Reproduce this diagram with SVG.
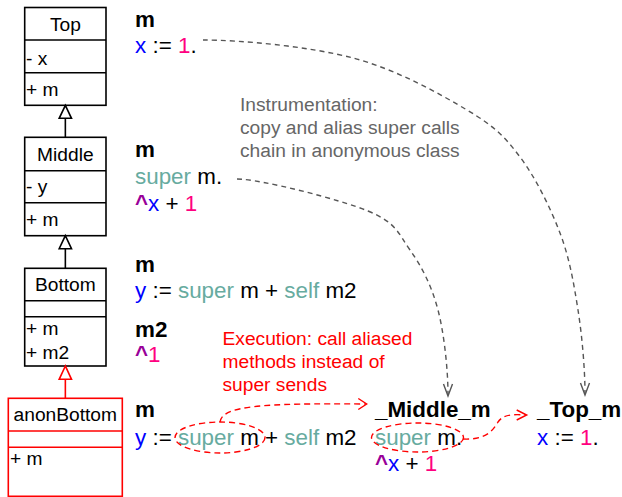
<svg xmlns="http://www.w3.org/2000/svg" width="622" height="497" viewBox="0 0 622 497">
<style>
text{font-family:"Liberation Sans",Arial,sans-serif;}
.lbl{font-size:19.2px;fill:#000;}
.ctr{text-anchor:middle;}
.code{font-size:22.4px;fill:#000;}
.bold{font-weight:bold;}
.v{fill:#0000FF;}
.n{fill:#FF0080;}
.t{fill:#67AB9F;}
.r{fill:#990099;font-weight:bold;}
.note{font-size:19.2px;fill:#666666;}
.rnote{font-size:19.2px;fill:#FF0000;}
.box{fill:#fff;stroke:#000;stroke-width:1.6;}
.rbox{fill:#fff;stroke:#FF0000;stroke-width:1.6;}
.gd{fill:none;stroke:#555;stroke-width:1.4;stroke-dasharray:5 4;}
.rd{fill:none;stroke:#FF0000;stroke-width:1.4;stroke-dasharray:6 4;}
.ah{fill:none;stroke:#555;stroke-width:1.4;}
.rah{fill:none;stroke:#FF0000;stroke-width:1.4;}
</style>

<g id="top">
<rect class="box" x="24.7" y="7.5" width="81.3" height="97.8"/>
<line class="box" x1="24.7" y1="40" x2="106" y2="40"/>
<line class="box" x1="24.7" y1="72.7" x2="106" y2="72.7"/>
<text class="lbl ctr" x="65.35" y="31">Top</text>
<text class="lbl" x="26" y="64.5">- x</text>
<text class="lbl" x="26" y="95.7">+ m</text>
</g>

<g id="middle">
<rect class="box" x="24.7" y="137.3" width="81.3" height="98.4"/>
<line class="box" x1="24.7" y1="170.7" x2="106" y2="170.7"/>
<line class="box" x1="24.7" y1="202.7" x2="106" y2="202.7"/>
<text class="lbl ctr" x="65.35" y="161">Middle</text>
<text class="lbl" x="26" y="193.4">- y</text>
<text class="lbl" x="26" y="225.7">+ m</text>
</g>

<g id="bottom">
<rect class="box" x="24.7" y="268.3" width="81.3" height="97.7"/>
<line class="box" x1="24.7" y1="300.7" x2="106" y2="300.7"/>
<line class="box" x1="24.7" y1="316.7" x2="106" y2="316.7"/>
<text class="lbl ctr" x="65.35" y="291">Bottom</text>
<text class="lbl" x="26" y="335">+ m</text>
<text class="lbl" x="26" y="359">+ m2</text>
</g>

<g id="anonBottom">
<rect class="rbox" x="8.3" y="398.3" width="114" height="98"/>
<line class="rbox" x1="8.3" y1="431" x2="122.3" y2="431"/>
<line class="rbox" x1="8.3" y1="447.3" x2="122.3" y2="447.3"/>
<text class="lbl ctr" x="65.3" y="420.5">anonBottom</text>
<text class="lbl" x="10" y="465">+ m</text>
</g>

<g id="code-top">
<text class="code bold" x="135" y="26.7">m</text>
<text class="code" x="135" y="53"><tspan class="v">x</tspan> := <tspan class="n">1</tspan>.</text>
</g>

<g id="code-middle">
<text class="code bold" x="135" y="157">m</text>
<text class="code" x="135" y="184"><tspan class="t">super</tspan> m.</text>
<text class="code" x="135" y="211"><tspan class="r">^</tspan><tspan class="v">x</tspan> + <tspan class="n">1</tspan></text>
</g>

<g id="code-bottom">
<text class="code bold" x="135" y="272">m</text>
<text class="code" x="135" y="297.5"><tspan class="v">y</tspan> := <tspan class="t">super</tspan> m + <tspan class="t">self</tspan> m2</text>
<text class="code bold" x="135" y="337">m2</text>
<text class="code" x="135" y="362"><tspan class="r">^</tspan><tspan class="n">1</tspan></text>
</g>

<g id="code-anon">
<text class="code bold" x="135" y="417">m</text>
<text class="code" x="135" y="445"><tspan class="v">y</tspan> := <tspan class="t">super</tspan> m + <tspan class="t">self</tspan> m2</text>
</g>

<g id="middle-m">
<text class="code bold" x="375" y="417">_Middle_m</text>
<text class="code" x="375" y="445"><tspan class="t">super</tspan> m.</text>
<text class="code" x="375" y="471"><tspan class="r">^</tspan><tspan class="v">x</tspan> + <tspan class="n">1</tspan></text>
</g>

<g id="top-m">
<text class="code bold" x="537" y="417">_Top_m</text>
<text class="code" x="537" y="445"><tspan class="v">x</tspan> := <tspan class="n">1</tspan>.</text>
</g>

<g id="note-instrumentation">
<text class="note" x="240" y="111">Instrumentation:</text>
<text class="note" x="240" y="134">copy and alias super calls</text>
<text class="note" x="240" y="157">chain in anonymous class</text>
</g>

<g id="note-execution">
<text class="rnote" x="222.5" y="345">Execution: call aliased</text>
<text class="rnote" x="222.5" y="368">methods instead of</text>
<text class="rnote" x="222.5" y="391">super sends</text>
</g>

<g id="connectors">
<!-- inheritance -->
<line class="box" x1="65.35" y1="118.3" x2="65.35" y2="137.3"/>
<polygon class="box" points="65.35,105.3 59.2,118.3 71.5,118.3"/>
<line class="box" x1="65.35" y1="248.7" x2="65.35" y2="268.3"/>
<polygon class="box" points="65.35,235.7 59.2,248.7 71.5,248.7"/>
<line class="rbox" x1="65.35" y1="379.3" x2="65.35" y2="398.3"/>
<polygon class="rbox" points="65.35,366 59.2,379.3 71.5,379.3"/>
<!-- gray dashed -->
<path class="gd" d="M203,40 C240,40 309,46.3 353,58 C397,69.7 439.2,93.5 467,110 C494.8,126.5 504.5,136.5 520,157 C535.5,177.5 550.3,207.5 560,233 C569.7,258.5 573.8,283.5 578,310 C582.2,336.5 585,370 585,394"/>
<polyline class="ah" points="580.5,383 585,395 589.5,383"/>
<path class="gd" d="M237,179 C260,179 339.2,199.2 368,211 C396.8,222.8 398.3,233.5 410,250 C421.7,266.5 431.7,285.8 438,310 C444.3,334.2 448,370 448,395"/>
<polyline class="ah" points="443.5,384 448,396 452.5,384"/>
<!-- red -->
<ellipse class="rd" cx="220" cy="437.5" rx="45" ry="15.5"/>
<path class="rd" d="M220,422 C222,406 260,403 366,404"/>
<polyline class="rah" points="358.3,398.5 366.7,404 358.3,409.5"/>
<ellipse class="rd" cx="417.5" cy="437.5" rx="46" ry="14.5"/>
<path class="rd" d="M463,439 C485,440 492,432 498,422 C503,415 510,414 526,415"/>
<polyline class="rah" points="516.7,410 526.7,415 516.7,420"/>
</g>
</svg>
